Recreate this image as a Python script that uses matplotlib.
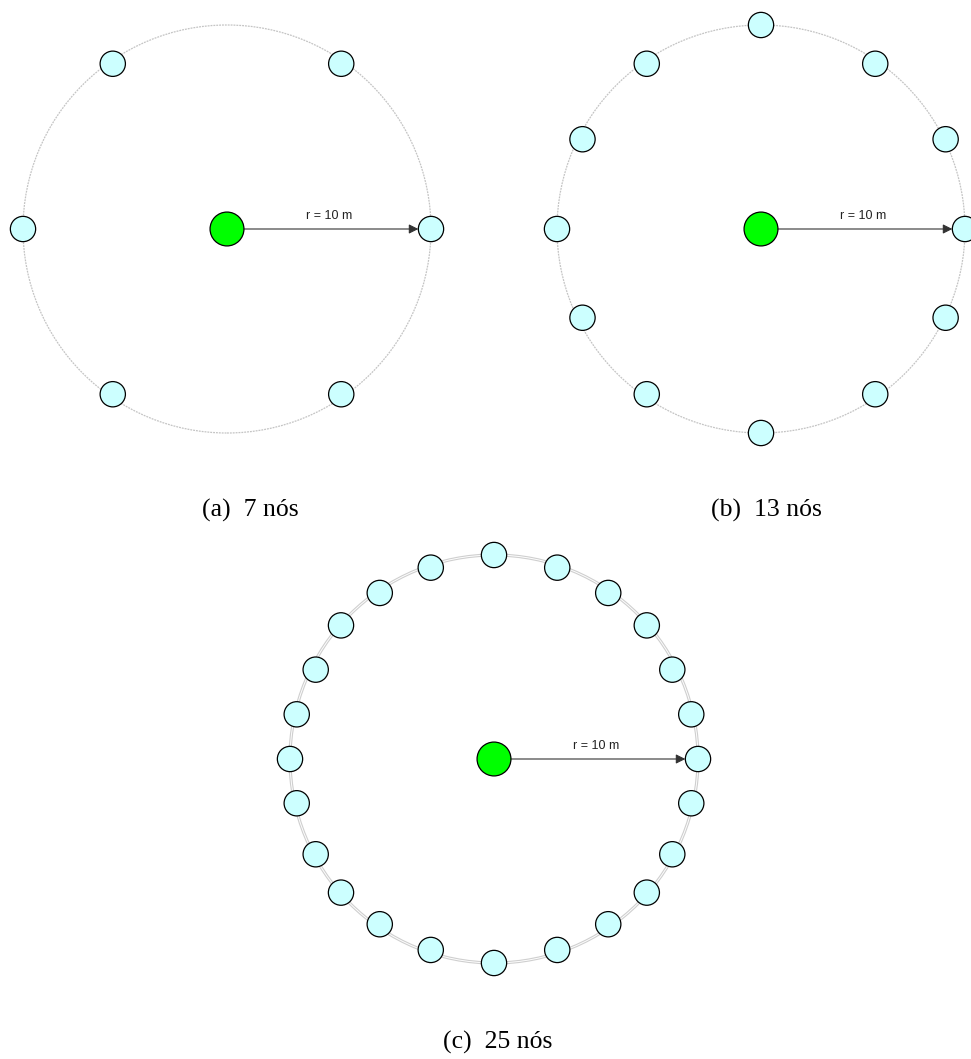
import numpy as np
import matplotlib
matplotlib.use("Agg")
import matplotlib.pyplot as plt
from matplotlib.patches import Circle

# Node positions (metres, relative to the sink)
a_x = [10.0, 5.6, -5.6, -10.0, -5.6, 5.6]
a_y = [0.0, 8.1, 8.1, 0.0, -8.1, -8.1]

b_x = [10.0, 9.05, 5.6, 0.0, -5.6, -8.75, -10.0, -8.75, -5.6, 0.0, 5.6, 9.05]
b_y = [0.0, 4.4, 8.1, 10.0, 8.1, 4.4, 0.0, -4.35, -8.1, -10.0, -8.1, -4.35]

c_x = [10.0, 9.67, 8.74, 7.49, 5.6, 3.1, 0.0, -3.1, -5.6, -7.5, -8.74, -9.67,
       -10.0, -9.67, -8.74, -7.5, -5.6, -3.1, 0.0, 3.1, 5.6, 7.49, 8.74, 9.67]
c_y = [0.0, 2.19, 4.38, 6.55, 8.14, 9.38, 10.0, 9.38, 8.14, 6.55, 4.38, 2.19,
       0.0, -2.17, -4.67, -6.55, -8.1, -9.36, -10.0, -9.36, -8.1, -6.55, -4.67, -2.17]

captions = ["(a)  7 nós", "(b)  13 nós", "(c)  25 nós"]
radius_m = 10.0
radius_label = "r = 10 m"

W, H = 971, 1059
fig = plt.figure(figsize=(W / 100, H / 100), dpi=100)

PX_PER_M = 20.4
HALF = 12.0
centers_px = [(227, 229), (761, 229), (494, 759)]
ring_styles = ["dotted", "dotted", "double"]


def make_ax(cx, cy):
    half_px = HALF * PX_PER_M
    ax = fig.add_axes([(cx - half_px) / W, (H - cy - half_px) / H,
                       2 * half_px / W, 2 * half_px / H])
    ax.set_xlim(-HALF, HALF)
    ax.set_ylim(-HALF, HALF)
    ax.set_aspect("equal")
    ax.axis("off")
    return ax


def draw_panel(ax, xs, ys, style):
    if style == "dotted":
        ax.add_patch(Circle((0, 0), radius_m, fill=False, ec="#c4c4c4",
                            lw=0.9, ls=(0, (1.5, 0.8)), zorder=1))
    else:
        ax.add_patch(Circle((0, 0), radius_m - 0.05, fill=False, ec="#cfcfcf",
                            lw=0.8, zorder=1))
        ax.add_patch(Circle((0, 0), radius_m + 0.05, fill=False, ec="#cfcfcf",
                            lw=0.8, zorder=1))
    for x, y in zip(xs, ys):
        ax.add_patch(Circle((x, y), 0.62, fc="#ccffff", ec="black",
                            lw=0.9, zorder=3))
    ax.add_patch(Circle((0, 0), 0.83, fc="#00ff00", ec="black",
                        lw=0.9, zorder=3))
    ax.annotate("", xy=(radius_m - 0.62, 0), xytext=(0.83, 0),
                arrowprops=dict(arrowstyle="-|>", color="#333333", lw=0.8,
                                mutation_scale=14, shrinkA=0, shrinkB=0),
                zorder=2)
    ax.text(radius_m / 2, 0.33, radius_label, ha="center", va="bottom",
            fontsize=9, family="Liberation Sans", color="#222222")


for (cx, cy), xs, ys, st in zip(centers_px, [a_x, b_x, c_x], [a_y, b_y, c_y],
                                ring_styles):
    ax = make_ax(cx, cy)
    draw_panel(ax, xs, ys, st)

cap_pos = [(250, 499), (766, 499), (498, 1031)]
for (x, y), t in zip(cap_pos, captions):
    fig.text(x / W, 1 - y / H, t, ha="center", va="top", fontsize=18.5,
             family="Liberation Serif")

fig.savefig("out.png", dpi=100)
